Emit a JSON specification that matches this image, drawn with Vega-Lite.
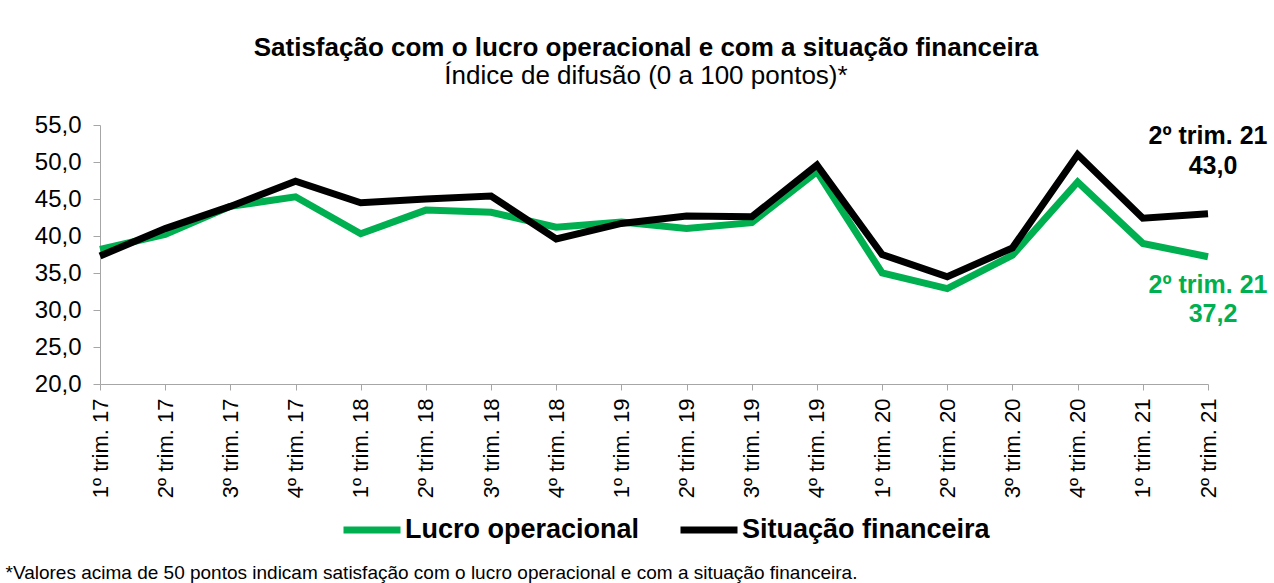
{
  "$schema": "https://vega.github.io/schema/vega-lite/v6.json",
  "width": 1108,
  "height": 259,
  "autosize": {"type": "none"},
  "padding": {"left": 100, "top": 125, "right": 66, "bottom": 199},
  "background": "white",
  "config": {
    "locale": {"number": {"decimal": ",", "thousands": ".", "grouping": [3], "currency": ["R$", ""]}},
    "view": {"stroke": null},
    "font": "Liberation Sans",
    "axis": {"labelOverlap": false}
  },
  "title": {
    "text": "Satisfação com o lucro operacional e com a situação financeira",
    "subtitle": "Índice de difusão (0 a 100 pontos)*",
    "font": "Liberation Sans",
    "subtitleFont": "Liberation Sans",
    "fontSize": 26,
    "fontWeight": "bold",
    "subtitleFontSize": 26,
    "color": "black",
    "subtitleColor": "black",
    "anchor": "middle",
    "offset": 24,
    "dx": -8,
    "subtitlePadding": 2
  },
  "data": {
    "values": [
      {"trim": "1º trim. 17", "serie": "Lucro operacional", "valor": 38.2},
      {"trim": "2º trim. 17", "serie": "Lucro operacional", "valor": 40.2},
      {"trim": "3º trim. 17", "serie": "Lucro operacional", "valor": 44.0},
      {"trim": "4º trim. 17", "serie": "Lucro operacional", "valor": 45.3},
      {"trim": "1º trim. 18", "serie": "Lucro operacional", "valor": 40.3},
      {"trim": "2º trim. 18", "serie": "Lucro operacional", "valor": 43.5},
      {"trim": "3º trim. 18", "serie": "Lucro operacional", "valor": 43.2},
      {"trim": "4º trim. 18", "serie": "Lucro operacional", "valor": 41.2},
      {"trim": "1º trim. 19", "serie": "Lucro operacional", "valor": 41.9},
      {"trim": "2º trim. 19", "serie": "Lucro operacional", "valor": 41.0},
      {"trim": "3º trim. 19", "serie": "Lucro operacional", "valor": 41.8},
      {"trim": "4º trim. 19", "serie": "Lucro operacional", "valor": 48.7},
      {"trim": "1º trim. 20", "serie": "Lucro operacional", "valor": 35.0},
      {"trim": "2º trim. 20", "serie": "Lucro operacional", "valor": 32.9},
      {"trim": "3º trim. 20", "serie": "Lucro operacional", "valor": 37.4},
      {"trim": "4º trim. 20", "serie": "Lucro operacional", "valor": 47.3},
      {"trim": "1º trim. 21", "serie": "Lucro operacional", "valor": 39.0},
      {"trim": "2º trim. 21", "serie": "Lucro operacional", "valor": 37.2},
      {"trim": "1º trim. 17", "serie": "Situação financeira", "valor": 37.3},
      {"trim": "2º trim. 17", "serie": "Situação financeira", "valor": 41.0},
      {"trim": "3º trim. 17", "serie": "Situação financeira", "valor": 44.0},
      {"trim": "4º trim. 17", "serie": "Situação financeira", "valor": 47.4},
      {"trim": "1º trim. 18", "serie": "Situação financeira", "valor": 44.5},
      {"trim": "2º trim. 18", "serie": "Situação financeira", "valor": 45.0},
      {"trim": "3º trim. 18", "serie": "Situação financeira", "valor": 45.4},
      {"trim": "4º trim. 18", "serie": "Situação financeira", "valor": 39.6},
      {"trim": "1º trim. 19", "serie": "Situação financeira", "valor": 41.7},
      {"trim": "2º trim. 19", "serie": "Situação financeira", "valor": 42.7},
      {"trim": "3º trim. 19", "serie": "Situação financeira", "valor": 42.6},
      {"trim": "4º trim. 19", "serie": "Situação financeira", "valor": 49.6},
      {"trim": "1º trim. 20", "serie": "Situação financeira", "valor": 37.5},
      {"trim": "2º trim. 20", "serie": "Situação financeira", "valor": 34.5},
      {"trim": "3º trim. 20", "serie": "Situação financeira", "valor": 38.4},
      {"trim": "4º trim. 20", "serie": "Situação financeira", "valor": 51.0},
      {"trim": "1º trim. 21", "serie": "Situação financeira", "valor": 42.4},
      {"trim": "2º trim. 21", "serie": "Situação financeira", "valor": 43.0}
    ]
  },
  "encoding": {
    "x": {
      "field": "trim", "type": "ordinal", "sort": null,
      "scale": {"type": "point", "padding": 0},
      "axis": {
        "title": "*Valores acima de 50 pontos indicam satisfação com o lucro operacional e com a situação financeira.",
        "titleFontSize": 19, "titleFontWeight": "normal", "titleColor": "black",
        "titleAnchor": "start", "titleAlign": "left", "titleX": -95, "titleY": 194, "titleBaseline": "alphabetic",
        "labelAngle": 270, "labelAlign": "right", "labelBaseline": "middle",
        "labelFontSize": 22, "labelColor": "black", "labelPadding": 8, "labelOverlap": false,
        "tickSize": 6, "tickColor": "#A6A6A6", "domainColor": "#A6A6A6", "grid": false
      }
    },
    "y": {
      "field": "valor", "type": "quantitative",
      "scale": {"domain": [20, 55], "nice": false, "zero": false},
      "axis": {
        "title": null, "values": [20, 25, 30, 35, 40, 45, 50, 55], "format": ".1f",
        "labelFontSize": 24, "labelColor": "black", "labelPadding": 12, "labelOverlap": false, "labelFlush": false, "labelBound": false,
        "tickSize": 7, "tickColor": "#A6A6A6", "domainColor": "#A6A6A6", "grid": false
      }
    }
  },
  "layer": [
    {
      "mark": {"type": "line", "strokeWidth": 7},
      "encoding": {
        "color": {
          "field": "serie", "type": "nominal",
          "scale": {"domain": ["Lucro operacional", "Situação financeira"], "range": ["#00B050", "#000000"]},
          "legend": {
            "title": null, "orient": "none", "legendX": 240, "legendY": 373, "direction": "horizontal",
            "symbolType": "stroke", "symbolStrokeWidth": 7, "symbolSize": 3249,
            "labelFontSize": 27, "labelFontWeight": "bold", "labelColor": "black", "labelLimit": 500,
            "columnPadding": 26, "labelOffset": 1
          }
        }
      }
    },
    {
      "transform": [{"filter": "datum.trim === '2º trim. 21' && datum.serie === 'Situação financeira'"}],
      "mark": {"type": "text", "fontSize": 25, "fontWeight": "bold", "color": "black", "dy": -78, "align": "center", "baseline": "middle"},
      "encoding": {"text": {"field": "trim"}}
    },
    {
      "transform": [{"filter": "datum.trim === '2º trim. 21' && datum.serie === 'Situação financeira'"}],
      "mark": {"type": "text", "fontSize": 25, "fontWeight": "bold", "color": "black", "dy": -48, "dx": 5, "align": "center", "baseline": "middle"},
      "encoding": {"text": {"field": "valor", "type": "quantitative", "format": ".1f"}}
    },
    {
      "transform": [{"filter": "datum.trim === '2º trim. 21' && datum.serie === 'Lucro operacional'"}],
      "mark": {"type": "text", "fontSize": 25, "fontWeight": "bold", "color": "#00B050", "dy": 28, "align": "center", "baseline": "middle"},
      "encoding": {"text": {"field": "trim"}}
    },
    {
      "transform": [{"filter": "datum.trim === '2º trim. 21' && datum.serie === 'Lucro operacional'"}],
      "mark": {"type": "text", "fontSize": 25, "fontWeight": "bold", "color": "#00B050", "dy": 57, "dx": 5, "align": "center", "baseline": "middle"},
      "encoding": {"text": {"field": "valor", "type": "quantitative", "format": ".1f"}}
    }
  ]
}
